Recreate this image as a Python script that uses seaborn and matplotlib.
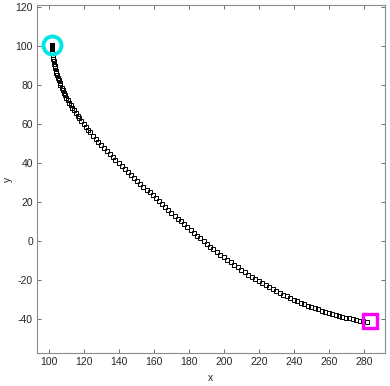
import matplotlib
matplotlib.use("Agg")
import matplotlib.pyplot as plt
import seaborn as sns

# path points
path_x = [101.5, 101.5, 101.51, 101.53, 101.57, 101.63, 101.71, 101.82, 101.95, 102.11,
          102.32, 102.57, 102.85, 103.15, 103.47, 103.82, 104.19, 104.59, 105.01, 105.45,
          105.95, 106.49, 107.09, 107.73, 108.41, 109.13, 109.88, 110.67, 111.5, 112.37,
          113.28, 114.22, 115.2, 116.24, 117.36, 118.51, 119.73, 120.98, 122.3, 123.65,
          125.08, 126.54, 128.08, 129.65, 131.25, 132.88, 134.54, 136.24, 137.95, 139.69,
          141.43, 143.18, 144.94, 146.71, 148.5, 150.3, 152.09, 153.9, 155.71, 157.52,
          159.25, 160.98, 162.74, 164.51, 166.3, 168.1, 169.89, 171.7, 173.51, 175.33,
          177.16, 179.0, 180.84, 182.7, 184.55, 186.41, 188.28, 190.16, 192.05, 193.97,
          195.89, 197.82, 199.78, 201.75, 203.73, 205.73, 207.73, 209.74, 211.74, 213.74,
          215.74, 217.74, 219.74, 221.74, 223.74, 225.74, 227.74, 229.74, 231.74, 233.74,
          235.74, 237.74, 239.74, 241.74, 243.74, 245.74, 247.74, 249.74, 251.74, 253.74,
          255.74, 257.74, 259.74, 261.74, 263.74, 265.74, 267.74, 269.74, 271.74, 273.74,
          275.74, 277.74, 279.74, 281.74]
path_y = [100.5, 100.3, 100.0, 99.5, 98.9, 98.2, 97.4, 96.5, 95.5, 94.4,
          93.3, 92.1, 90.9, 89.7, 88.5, 87.3, 86.1, 84.9, 83.7, 82.5,
          81.25, 80.0, 78.7, 77.4, 76.1, 74.8, 73.5, 72.2, 70.9, 69.6,
          68.3, 67.0, 65.7, 64.35, 62.95, 61.55, 60.1, 58.65, 57.15, 55.65,
          54.1, 52.55, 50.95, 49.35, 47.75, 46.15, 44.58, 43.01, 41.46, 39.91,
          38.38, 36.86, 35.34, 33.84, 32.34, 30.84, 29.36, 27.88, 26.4, 24.93,
          23.43, 21.93, 20.43, 18.93, 17.43, 15.93, 14.45, 12.97, 11.5, 10.03,
          8.57, 7.11, 5.66, 4.21, 2.79, 1.37, -0.05, -1.46, -2.86, -4.26,
          -5.64, -7.0, -8.35, -9.68, -10.98, -12.26, -13.51, -14.73, -15.97, -17.17,
          -18.33, -19.45, -20.53, -21.59, -22.63, -23.63, -24.61, -25.57, -26.51, -27.43,
          -28.31, -29.17, -30.01, -30.83, -31.61, -32.37, -33.09, -33.79, -34.45, -35.09,
          -35.71, -36.29, -36.85, -37.39, -37.89, -38.37, -38.83, -39.27, -39.69, -40.09,
          -40.47, -40.83, -41.17, -41.49]

start_x = [101.6]
start_y = [100.6]
goal_x = [283.6]
goal_y = [-41.2]

x_ticks = list(range(100, 281, 20))
y_ticks = list(range(-40, 121, 20))

sns.set_style("ticks")
plt.rcParams['font.family'] = ['Liberation Sans', 'DejaVu Sans']
plt.rcParams['axes.unicode_minus'] = False

fig = plt.figure(figsize=(3.9, 3.86), dpi=100)
ax = fig.add_axes([0.095, 0.0855, 0.892, 0.9015])

sns.lineplot(x=path_x, y=path_y, sort=False, estimator=None, ax=ax,
             linestyle='none', marker='s', markersize=3.5, markerfacecolor='none',
             markeredgecolor='black', markeredgewidth=0.7)
sns.lineplot(x=start_x, y=start_y, sort=False, estimator=None, ax=ax,
             linestyle='none', marker='o', markersize=13, markerfacecolor='none',
             markeredgecolor='#00e5e5', markeredgewidth=2.8)
sns.lineplot(x=goal_x, y=goal_y, sort=False, estimator=None, ax=ax,
             linestyle='none', marker='s', markersize=10.5, markerfacecolor='none',
             markeredgecolor='#ff00ff', markeredgewidth=2.4)

ax.set_xlim(93.1, 292)
ax.set_ylim(-57.4, 121)
ax.set_xticks(x_ticks)
ax.set_yticks(y_ticks)
ax.tick_params(direction='in', top=True, right=True, length=3, width=0.6,
               color='#555555', labelsize=7.5, labelcolor='#262626', pad=3)
for sp in ax.spines.values():
    sp.set_visible(True)
    sp.set_color('#8c8c8c')
    sp.set_linewidth(0.8)
ax.set_xlabel('x', fontsize=7.5, color='#262626', labelpad=4)
ax.set_ylabel('y', fontsize=7.5, color='#262626', labelpad=2)

fig.savefig('out.png', dpi=100)
